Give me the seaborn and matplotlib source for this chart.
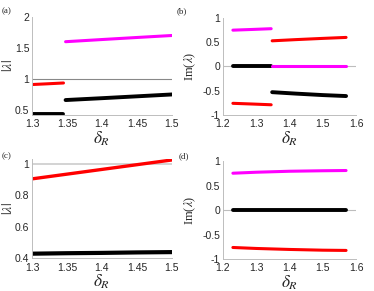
import numpy as np
import pandas as pd
import seaborn as sns
import matplotlib.pyplot as plt

# ---- data ----
# (a) |lambda| vs delta_R
a_x1 = [1.30, 1.3225, 1.345]
a_red = [0.91, 0.922, 0.935]
a_black1 = [0.435, 0.435, 0.435]
a_x2 = [1.348, 1.40, 1.45, 1.50]
a_mag = [1.60, 1.635, 1.668, 1.70]
a_black2 = [0.66, 0.69, 0.72, 0.75]

# (b) Im(lambda) vs delta_R
b_x1 = [1.23, 1.29, 1.345]
b_mag1 = [0.75, 0.765, 0.78]
b_black1 = [0.0, 0.0, 0.0]
b_red1 = [-0.76, -0.775, -0.79]
b_x2 = [1.348, 1.42, 1.50, 1.57]
b_red2 = [0.53, 0.555, 0.58, 0.60]
b_mag2 = [0.0, 0.0, 0.0, 0.0]
b_black2 = [-0.53, -0.56, -0.59, -0.61]

# (c) |lambda| vs delta_R
c_x = [1.30, 1.35, 1.40, 1.45, 1.50]
c_red = [0.905, 0.935, 0.965, 0.995, 1.025]
c_black = [0.43, 0.433, 0.435, 0.438, 0.44]

# (d) Im(lambda) vs delta_R
d_x = [1.23, 1.30, 1.40, 1.50, 1.57]
d_mag = [0.75, 0.77, 0.79, 0.80, 0.805]
d_black = [0.0, 0.0, 0.0, 0.0, 0.0]
d_red = [-0.76, -0.78, -0.80, -0.815, -0.82]

xt_ac = [1.3, 1.35, 1.4, 1.45, 1.5]
xt_ac_lab = ['1.3', '1.35', '1.4', '1.45', '1.5']
xt_bd = [1.2, 1.3, 1.4, 1.5, 1.6]
xt_bd_lab = ['1.2', '1.3', '1.4', '1.5', '1.6']
yt_a = [0.5, 1, 1.5, 2]
yt_a_lab = ['0.5', '1', '1.5', '2']
yt_bd = [-1, -0.5, 0, 0.5, 1]
yt_bd_lab = ['-1', '-0.5', '0', '0.5', '1']
yt_c = [0.4, 0.6, 0.8, 1]
yt_c_lab = ['0.4', '0.6', '0.8', '1']

sns.set_style("white")
plt.rcParams['font.family'] = ['Liberation Sans', 'DejaVu Sans']
plt.rcParams['mathtext.fontset'] = 'stix'

MAG = '#ff00ff'
RED = '#ff0000'
GRID = '#bdbdbd'

fig = plt.figure(figsize=(3.74, 2.91), dpi=100)
ax_a = fig.add_axes([0.0856, 0.605, 0.374, 0.337])
ax_b = fig.add_axes([0.596, 0.605, 0.356, 0.333])
ax_c = fig.add_axes([0.0856, 0.112, 0.374, 0.341])
ax_d = fig.add_axes([0.596, 0.109, 0.356, 0.338])


def line(ax, x, y, c, lw=2.2):
    sns.lineplot(x=x, y=y, ax=ax, color=c, lw=lw, legend=False)


def style(ax, xt, xl, yt, yl, ylabel, serif=False):
    ax.set_xticks(xt)
    ax.set_xticklabels(xl)
    ax.set_yticks(yt)
    ax.set_yticklabels(yl)
    ax.tick_params(direction='in', length=2.5, width=0.6, colors=GRID,
                   labelcolor='#262626', labelsize=7.5, pad=2)
    ax.tick_params(axis='x', pad=3)
    for s in ['top', 'right']:
        ax.spines[s].set_visible(False)
    for s in ['left', 'bottom']:
        ax.spines[s].set_color(GRID)
        ax.spines[s].set_linewidth(0.7)
    ax.set_xlabel(r'$\delta_R$', fontsize=12.5, labelpad=0)
    if serif:
        ax.set_ylabel(ylabel, fontsize=9, family='Liberation Serif', labelpad=3)
    else:
        ax.set_ylabel(ylabel, fontsize=10, labelpad=0)


# (a)
ax_a.axhline(1, color='#888888', lw=0.8)
line(ax_a, a_x1, a_red, RED)
line(ax_a, a_x1, a_black1, 'black', 2.8)
line(ax_a, a_x2, a_mag, MAG)
line(ax_a, a_x2, a_black2, 'black', 2.8)
ax_a.set_xlim(1.3, 1.5)
ax_a.set_ylim(0.42, 2.0)
style(ax_a, xt_ac, xt_ac_lab, yt_a, yt_a_lab, r'$|\lambda|$')

# (b)
ax_b.axhline(0, color=GRID, lw=0.8)
line(ax_b, b_x1, b_mag1, MAG)
line(ax_b, b_x1, b_black1, 'black', 2.8)
line(ax_b, b_x1, b_red1, RED)
line(ax_b, b_x2, b_red2, RED)
line(ax_b, b_x2, b_mag2, MAG)
line(ax_b, b_x2, b_black2, 'black', 2.8)
ax_b.set_xlim(1.2, 1.6)
ax_b.set_ylim(-1, 1)
style(ax_b, xt_bd, xt_bd_lab, yt_bd, yt_bd_lab, r'Im($\lambda$)', serif=True)

# (c)
ax_c.axhline(1, color='#cccccc', lw=1.2)
line(ax_c, c_x, c_red, RED, 2.4)
line(ax_c, c_x, c_black, 'black', 3.0)
ax_c.set_xlim(1.3, 1.5)
ax_c.set_ylim(0.4, 1.03)
style(ax_c, xt_ac, xt_ac_lab, yt_c, yt_c_lab, r'$|\lambda|$')

# (d)
ax_d.axhline(0, color=GRID, lw=0.8)
line(ax_d, d_x, d_mag, MAG)
line(ax_d, d_x, d_black, 'black', 2.8)
line(ax_d, d_x, d_red, RED)
ax_d.set_xlim(1.2, 1.6)
ax_d.set_ylim(-1, 1)
style(ax_d, xt_bd, xt_bd_lab, yt_bd, yt_bd_lab, r'Im($\lambda$)', serif=True)

for lab, x, y in [('(a)', 0.005, 0.975), ('(b)', 0.472, 0.975),
                  ('(c)', 0.005, 0.478), ('(d)', 0.478, 0.478)]:
    fig.text(x, y, lab, fontsize=6.5, family='Liberation Serif', va='top')

fig.savefig('out.png', dpi=100)
